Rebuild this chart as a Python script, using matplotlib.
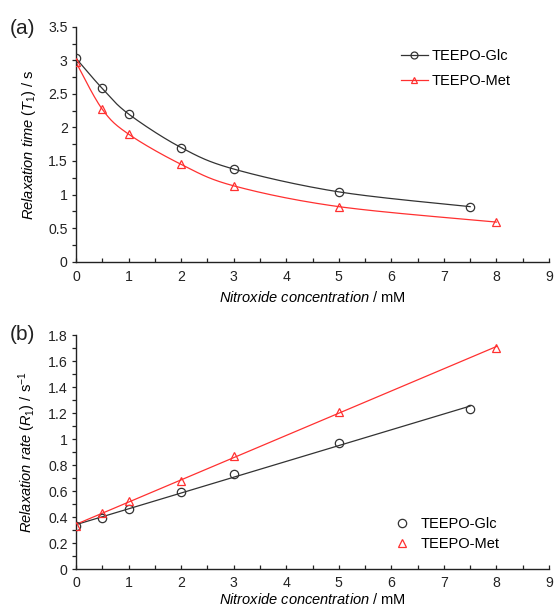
import numpy as np
import matplotlib
matplotlib.use("Agg")
import matplotlib.pyplot as plt
from matplotlib.ticker import MultipleLocator

plt.rcParams["font.family"] = ["Liberation Sans", "DejaVu Sans"]
plt.rcParams["mathtext.fontset"] = "custom"
plt.rcParams["mathtext.rm"] = "Liberation Sans"
plt.rcParams["mathtext.it"] = "Liberation Sans:italic"

# Nitroxide concentrations (mM)
conc_glc = [0, 0.5, 1, 2, 3, 5, 7.5]
conc_met = [0, 0.5, 1, 2, 3, 5, 8]

# Longitudinal relaxation time T1 (s)
t1_glc = [3.03, 2.58, 2.20, 1.70, 1.38, 1.04, 0.82]
t1_met = [2.97, 2.27, 1.90, 1.45, 1.13, 0.82, 0.59]

# Relaxation rate R1 (1/s)
r1_glc = [0.33, 0.39, 0.46, 0.59, 0.73, 0.97, 1.23]
r1_met = [0.33, 0.43, 0.52, 0.68, 0.87, 1.21, 1.70]

labels = ["TEEPO-Glc", "TEEPO-Met"]
BLACK = "#333333"
RED = "#ff3030"

fig = plt.figure(figsize=(5.54, 6.10), dpi=100)
ax_a = fig.add_axes([0.1372, 0.571, 0.8538, 0.3852])
ax_b = fig.add_axes([0.1372, 0.0672, 0.8538, 0.3836])


def style_axes(ax, ymax, ystep, yminor, xpad, xlabelpad):
    ax.set_xlim(0, 9)
    ax.set_ylim(0, ymax)
    ax.xaxis.set_major_locator(MultipleLocator(1))
    ax.xaxis.set_minor_locator(MultipleLocator(0.5))
    ax.yaxis.set_major_locator(MultipleLocator(ystep))
    ax.yaxis.set_minor_locator(MultipleLocator(yminor))
    for s in ("top", "right"):
        ax.spines[s].set_visible(False)
    for s in ("left", "bottom"):
        ax.spines[s].set_linewidth(1.0)
        ax.spines[s].set_color("#222222")
    ax.tick_params(axis="x", which="both", direction="in", length=3, width=0.9,
                   labelsize=10.2, pad=xpad, colors="#222222")
    ax.tick_params(axis="y", which="both", direction="out", length=3, width=0.9,
                   labelsize=10.2, pad=3, colors="#222222")
    ax.set_xlabel(r"$\it{Nitroxide\ concentration}$ / mM", fontsize=10.5,
                  labelpad=xlabelpad)
    ax.yaxis.set_major_formatter(plt.FuncFormatter(lambda v, p: f"{v:g}"))
    ax.xaxis.set_major_formatter(plt.FuncFormatter(lambda v, p: f"{v:g}"))


def smooth_curve(x, y, n=30):
    """Smoothed line through the points (cubic Bezier segments)."""
    p = np.column_stack([np.asarray(x, float), np.asarray(y, float)])
    ext = np.vstack([p[0], p, p[-1]])
    out = [p[:1]]
    t = np.linspace(0, 1, n)[1:, None]
    for i in range(1, len(ext) - 2):
        p0, p1, p2, p3 = ext[i - 1], ext[i], ext[i + 1], ext[i + 2]
        c1 = p1 + (p2 - p0) / 6.0
        c2 = p2 - (p3 - p1) / 6.0
        seg = ((1 - t) ** 3) * p1 + 3 * ((1 - t) ** 2) * t * c1 \
            + 3 * (1 - t) * t ** 2 * c2 + t ** 3 * p2
        out.append(seg)
    pts = np.vstack(out)
    return pts[:, 0], pts[:, 1]


# (a) T1 with smoothed connecting lines
for conc, t1, col, mk, lab in [(conc_glc, t1_glc, BLACK, "o", labels[0]),
                               (conc_met, t1_met, RED, "^", labels[1])]:
    sx, sy = smooth_curve(conc, t1)
    ax_a.plot(sx, sy, color=col, lw=0.9, zorder=2)
    ax_a.plot(conc, t1, linestyle="none", marker=mk, mfc="none", mec=col, mew=0.9,
              ms=6, zorder=3)
    ax_a.plot([], [], color=col, lw=0.9, marker=mk, mfc="none", mec=col,
              mew=0.9, ms=5, label=lab)

style_axes(ax_a, 3.5, 0.5, 0.25, xpad=6, xlabelpad=4)
ax_a.set_ylabel(r"$\it{Relaxation\ time}$ ($\it{T}_{1}$) / s", fontsize=10.5, labelpad=7)
ax_a.legend(loc="upper left", bbox_to_anchor=(0.66, 0.96), frameon=False,
            fontsize=10.5, handlelength=1.8, handletextpad=0.3, labelspacing=0.75)

# (b) R1 with linear least-squares fits
for conc, r1, col, mk, lab in [(conc_glc, r1_glc, BLACK, "o", labels[0]),
                               (conc_met, r1_met, RED, "^", labels[1])]:
    c = np.asarray(conc, float)
    slope, icpt = np.polyfit(c, np.asarray(r1, float), 1)
    cc = np.array([0, c.max()])
    ax_b.plot(cc, icpt + slope * cc, color=col, lw=0.9, zorder=2)
    ax_b.plot(conc, r1, linestyle="none", marker=mk, mfc="none", mec=col, mew=0.9,
              ms=6, zorder=3, label=lab)

style_axes(ax_b, 1.8, 0.2, 0.1, xpad=5, xlabelpad=1.5)
ax_b.set_ylabel(r"$\it{Relaxation\ rate}$ ($\it{R}_{1}$) / s$^{-1}$", fontsize=10.5,
                labelpad=7)
ax_b.legend(loc="lower left", bbox_to_anchor=(0.643, 0.02), frameon=False,
            fontsize=10.5, handlelength=1.2, handletextpad=0.7, labelspacing=0.4)

fig.text(0.018, 0.945, "(a)", fontsize=15, color="#222222")
fig.text(0.018, 0.442, "(b)", fontsize=15, color="#222222")

fig.savefig("out.png", dpi=100)
